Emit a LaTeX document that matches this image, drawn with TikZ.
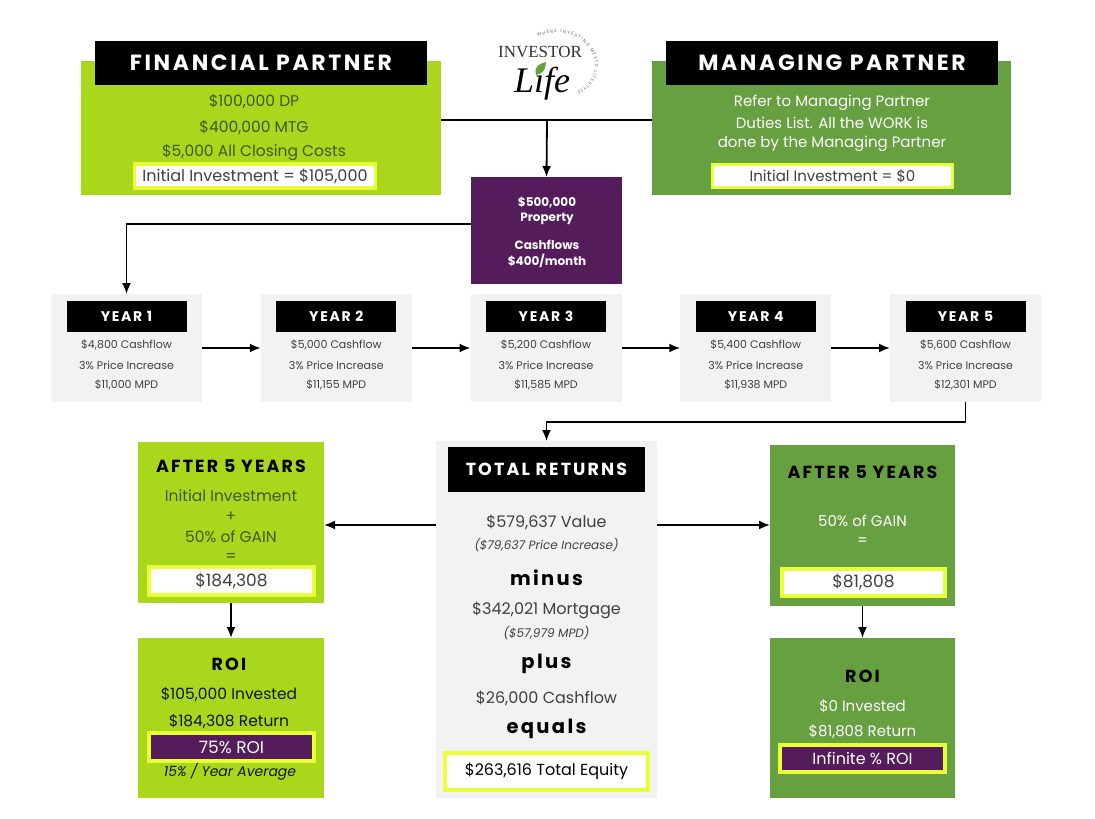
\documentclass[tikz,border=0pt]{standalone}
\usepackage{fontspec}
\setmainfont{Poppins}
\newfontfamily\spaced[LetterSpace=12]{Poppins}
\newfontfamily\logofont{Liberation Serif}
\usetikzlibrary{decorations.text,arrows.meta}
\definecolor{limegreen}{HTML}{A9D71C}
\definecolor{leafgreen}{HTML}{66A040}
\definecolor{plum}{HTML}{551C5C}
\definecolor{lemon}{HTML}{E8FF3A}
\definecolor{panelgrey}{HTML}{F2F2F2}
\definecolor{olivetext}{HTML}{3F5A12}
\definecolor{greytext}{HTML}{404040}
\tikzset{
    panel/.style={rectangle,inner sep=0,outer sep=0},
    headbar/.style={panel,fill=black,text=white},
    highlight/.style={panel,draw=lemon,line width=3.5pt,fill=white,text=greytext,font=\fontsize{16}{16}\selectfont},
    limeline/.style={text=olivetext,inner sep=0,font=\fontsize{15.5}{15.5}\selectfont},
    greenline/.style={text=white,inner sep=0,font=\fontsize{15}{15}\selectfont},
    greyline/.style={text=greytext,inner sep=0,font=\fontsize{16}{16}\selectfont},
    yearline/.style={text=greytext,inner sep=0,font=\fontsize{11}{11}\selectfont},
    bigword/.style={text=black,inner sep=0,font=\fontsize{19.5}{19.5}\spaced\bfseries},
    smallhead/.style={inner sep=0,text=black,font=\fontsize{17.5}{17.5}\spaced\bfseries},
    flow/.style={line width=1.8pt,-{Latex[length=11pt,width=9pt]}},
    plainflow/.style={line width=1.8pt},
}
\begin{document}
\begin{tikzpicture}[x=1pt,y=-1pt]
    \useasboundingbox (0,0) rectangle (1095,819);

    % top row
    \node[panel,fill=limegreen,minimum width=360,minimum height=134] (fp) at (261,128) {};
    \node[headbar,minimum width=332,minimum height=44,font=\fontsize{22}{22}\spaced\bfseries] (fphead) at (261,63) {FINANCIAL PARTNER};
    \foreach \n/\yy/\txt in {1/102/{\$100,000 DP},2/127/{\$400,000 MTG},3/152/{\$5,000 All Closing Costs}} {
        \node[limeline] (fpline\n) at (254,\yy) {\txt};
    }
    \node[highlight,minimum width=241,minimum height=24] (fpbox) at (255,176) {Initial Investment = \$105,000};

    \node[panel,fill=leafgreen,minimum width=359,minimum height=134] (mp) at (831.5,128) {};
    \node[headbar,minimum width=332,minimum height=44,font=\fontsize{22}{22}\spaced\bfseries] (mphead) at (832,63) {MANAGING PARTNER};
    \foreach \n/\yy/\txt in {1/103/{Refer to Managing Partner},2/123/{Duties List. All the WORK is},3/144/{done by the Managing Partner}} {
        \node[greenline] (mpline\n) at (832,\yy) {\txt};
    }
    \node[highlight,minimum width=240,minimum height=23,font=\fontsize{15}{15}\selectfont] (mpbox) at (832.5,176) {Initial Investment = \$0};

    % logo
    \node[inner sep=0,font=\logofont\fontsize{17}{17}\selectfont,text=black!80] (logoname) at (540,52) {INVESTOR};
    \node[inner sep=0,font=\logofont\itshape\fontsize{36}{36}\selectfont,text=black] (logolife) at (542,84) {Life};
    \fill[leafgreen] (536,75) .. controls (534,66) and (539,64) .. (546,62) .. controls (546,69) and (543,74) .. (536,75);
    \path[decorate,decoration={text along path,text align={fit to path},text={|\fontsize{4.5}{4.5}\selectfont\color{black!60}|WHERE INVESTING MEETS LIFESTYLE}}]
        (538,37) .. controls (565,25) and (594,40) .. (595,66) .. controls (595,76) and (588,86) .. (577,92);

    % property
    \node[panel,fill=plum,minimum width=151,minimum height=107] (prop) at (546.5,230.5) {};
    \foreach \n/\yy/\txt in {1/203/{\$500,000},2/219/{Property},3/245/{Cashflows},4/261/{\$400/month}} {
        \node[inner sep=0,text=white,font=\fontsize{12}{12}\selectfont\bfseries] (propline\n) at (547,\yy) {\txt};
    }
    \coordinate (join) at (547,120);
    \draw[plainflow] (fp.east |- join) -- (mp.west |- join);
    \draw[flow] (join) -- (prop.north);

    % years
    \pgfmathsetmacro{\xa}{151}
    \pgfmathsetmacro{\xb}{209.75}
    \foreach \n/\cf/\mpd in {1/{4,800}/{11,000},2/{5,000}/{11,155},3/{5,200}/{11,585},4/{5,400}/{11,938},5/{5,600}/{12,301}} {
        \pgfmathsetmacro{\xc}{126.5+(\n-1)*\xb}
        \node[panel,fill=panelgrey,minimum width=\xa,minimum height=108] (year\n) at (\xc,348) {};
        \node[headbar,minimum width=120,minimum height=31,font=\fontsize{14}{14}\spaced\bfseries] (yearhead\n) at (\xc,316.5) {YEAR \n};
        \node[yearline] (yearcf\n) at (\xc,345) {\$\cf{} Cashflow};
        \node[yearline] (yearup\n) at (\xc,365) {3\% Price Increase};
        \node[yearline] (yearmpd\n) at (\xc,385) {\$\mpd{} MPD};
    }
    \foreach \n/\m in {1/2,2/3,3/4,4/5} {
        \draw[flow] (year\n) -- (year\m);
    }
    \draw[flow] ([yshift=6.5pt]prop.west) -| (year1.north);

    % total returns
    \node[panel,fill=panelgrey,minimum width=221,minimum height=357] (total) at (546.5,619.5) {};
    \node[headbar,minimum width=197,minimum height=45,font=\fontsize{17.5}{17.5}\spaced\bfseries] (totalhead) at (546.5,469.5) {TOTAL RETURNS};
    \foreach \n/\yy/\txt in {1/522/{\$579,637 Value},2/610/{\$342,021 Mortgage},3/698/{\$26,000 Cashflow}} {
        \node[greyline] (totalline\n) at (546.5,\yy) {\txt};
    }
    \node[inner sep=0,text=greytext,font=\fontsize{12}{12}\selectfont\itshape] (totalnote1) at (546.5,545) {(\$79,637 Price Increase)};
    \node[inner sep=0,text=greytext,font=\fontsize{12}{12}\selectfont\itshape] (totalnote2) at (546.5,633) {(\$57,979 MPD)};
    \node[bigword] (minusword) at (546.5,578) {minus};
    \node[bigword] (plusword) at (546.5,664) {plus};
    \node[bigword] (equalsword) at (546.5,729) {equals};
    \node[highlight,minimum width=203,minimum height=37,text=black] (totalbox) at (546.5,771.5) {\$263,616 Total Equity};
    \draw[flow] (year5.south) -- ++(0,20) -| (total.north);

    % left column
    \node[panel,fill=limegreen,minimum width=186,minimum height=161] (afterl) at (231,522.5) {};
    \node[smallhead] (afterlhead) at (231,466) {AFTER 5 YEARS};
    \foreach \n/\yy/\txt in {1/496/{Initial Investment},2/517/{+},3/537/{50\% of GAIN},4/558/{=}} {
        \node[limeline] (afterlline\n) at (231,\yy) {\txt};
    }
    \node[highlight,minimum width=165,minimum height=28,font=\fontsize{17}{17}\selectfont] (afterlbox) at (231.5,581) {\$184,308};
    \node[panel,fill=limegreen,minimum width=186,minimum height=160] (roil) at (231,718) {};
    \node[smallhead] (roilhead) at (229,664) {ROI};
    \node[limeline,text=black!75!olivetext] (roilline1) at (229,694) {\$105,000 Invested};
    \node[limeline,text=black!75!olivetext] (roilline2) at (229,721) {\$184,308 Return};
    \node[highlight,fill=plum,text=white,minimum width=165,minimum height=28,font=\fontsize{17}{17}\selectfont] (roilbox) at (231.5,747) {75\% ROI};
    \node[limeline,text=black!75!olivetext,font=\fontsize{14}{14}\selectfont\itshape] (roilnote) at (230,772) {15\% / Year Average};
    \draw[flow] (afterl) -- (roil);

    % right column
    \node[panel,fill=leafgreen,minimum width=185,minimum height=161] (afterr) at (862.5,525.5) {};
    \node[smallhead] (afterrhead) at (862.5,472) {AFTER 5 YEARS};
    \node[greenline] (afterrline1) at (862.5,521) {50\% of GAIN};
    \node[greenline] (afterrline2) at (862.5,542) {=};
    \node[highlight,minimum width=163,minimum height=27,font=\fontsize{17}{17}\selectfont] (afterrbox) at (863.5,582.5) {\$81,808};
    \node[panel,fill=leafgreen,minimum width=185,minimum height=160] (roir) at (862.5,718) {};
    \node[smallhead] (roirhead) at (862.5,676) {ROI};
    \node[greenline] (roirline1) at (862.5,706) {\$0 Invested};
    \node[greenline] (roirline2) at (862.5,732) {\$81,808 Return};
    \node[highlight,fill=plum,text=white,minimum width=165,minimum height=27] (roirbox) at (862.5,758.5) {Infinite \% ROI};
    \draw[flow] (afterr) -- (roir);

    % total to the sides
    \coordinate (split) at (547,525);
    \draw[flow] (total.west |- split) -- (afterl.east |- split);
    \draw[flow] (total.east |- split) -- (afterr.west |- split);
\end{tikzpicture}
\end{document}
